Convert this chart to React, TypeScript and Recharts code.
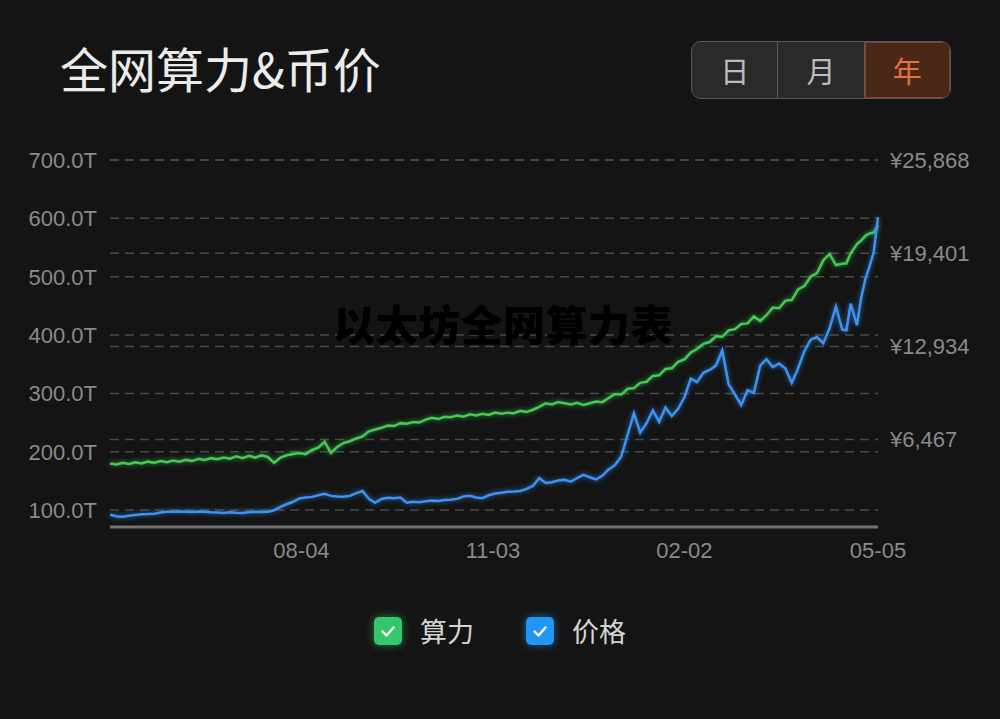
import React from 'react';
import { LineChart, Line, XAxis, YAxis, CartesianGrid } from 'recharts';

// Day offsets from 05-05 (start of the one-year window)
const days = [
  0, 3, 6, 9, 12, 15, 18, 21, 24, 27, 30, 33, 36, 39, 42, 45, 48, 51, 54, 57,
  60, 63, 66, 69, 72, 75, 78, 81, 84, 87, 90, 93, 96, 99, 102, 105, 108, 111, 114, 117,
  120, 123, 126, 129, 132, 135, 138, 141, 144, 147, 150, 153, 156, 159, 162, 165, 168, 171, 174, 177,
  180, 183, 186, 189, 192, 195, 198, 201, 204, 207, 210, 213, 216, 219, 222, 225, 228, 231, 234, 237,
  240, 243, 246, 249, 252, 255, 258, 261, 264, 267, 270, 273, 276, 279, 282, 285, 288, 291, 294, 297,
  300, 303, 306, 309, 312, 315, 318, 321, 324, 327, 330, 333, 336, 339, 342,
  345, 348, 350, 352, 355, 357, 359, 361, 363, 365,
];

// Network hashrate (T)
const hashrate = [
  180, 178, 181, 179, 182, 180, 183, 181, 184, 182, 185, 183, 186, 184, 188, 186, 189, 187, 190, 188,
  192, 189, 193, 190, 194, 191, 181, 190, 194, 196, 198, 196, 203, 207, 217, 198, 208, 215, 218, 223,
  226, 235, 238, 241, 245, 244, 249, 248, 251, 250, 255, 258, 256, 260, 259, 262, 260, 264, 262, 265,
  263, 267, 265, 267, 266, 270, 268, 272, 277, 283, 281, 285, 283, 281, 284, 280, 283, 286, 285, 292,
  299, 298, 308, 309, 318, 320, 330, 331, 342, 343, 354, 358, 370, 376, 385, 388, 398, 397, 408, 410,
  419, 420, 432, 424, 434, 447, 446, 459, 460, 478, 484, 500, 506, 528, 539,
  520, 522, 523, 540, 556, 562, 570, 574, 576, 588,
];

// Coin price (¥)
const price = [
  1250, 1150, 1110, 1180, 1240, 1290, 1300, 1320, 1400, 1460, 1450, 1470, 1460, 1440, 1480, 1450, 1420, 1400, 1380, 1420,
  1390, 1380, 1420, 1450, 1440, 1460, 1560, 1800, 1980, 2150, 2380, 2450, 2490, 2600, 2700, 2560, 2520, 2500, 2560, 2750,
  2900, 2350, 2080, 2350, 2430, 2400, 2440, 2080, 2150, 2110, 2180, 2230, 2200, 2270, 2290, 2350, 2520, 2560, 2450, 2400,
  2600, 2720, 2780, 2840, 2860, 2900, 3050, 3250, 3800, 3450, 3500, 3620, 3680, 3550, 3800, 4020, 3850, 3700, 3950, 4400,
  4700, 5300, 6800, 8300, 6950, 7600, 8500, 7700, 8700, 8100, 8600, 9400, 10700, 10450, 11100, 11300, 11600, 12650, 10300, 9600,
  8850, 9900, 9700, 11600, 12050, 11500, 11750, 11400, 10400, 11400, 12600, 13400, 13580, 13150, 14200,
  15700, 14100, 14050, 15900, 14400, 16300, 17600, 18500, 19500, 21900,
];

const xTickDays = [91, 182, 273, 365];
const xTickLabels = ['08-04', '11-03', '02-02', '05-05'];
const hashTicks = [100, 200, 300, 400, 500, 600, 700];
const priceTicks = [6467, 12934, 19401, 25868];
const seriesNames = ['算力', '价格'];
const periodLabels = ['日', '月', '年'];
const titleText = '全网算力&币价';
const watermarkText = '以太坊全网算力表';

const GREEN = '#46c957';
const BLUE = '#3d93ee';

const data = days.map((d, i) => ({ day: d, hash: hashrate[i], price: price[i] }));

const tickStyle = { fontSize: 22, fill: '#8a8a8a', fontFamily: '"Liberation Sans", Arial, sans-serif' };

const fmtHash = (v: number) => `${v.toFixed(1)}T`;
const fmtPrice = (v: number) => '¥' + String(v).replace(/\B(?=(\d{3})+(?!\d))/g, ',');
const fmtDay = (v: number) => {
  const i = xTickDays.indexOf(v);
  return i >= 0 ? xTickLabels[i] : '';
};

const CJK = '"Noto Sans CJK SC", "Noto Sans", sans-serif';

const glowCss = `
.glow-green path { filter: drop-shadow(0 0 2.5px rgba(60, 200, 80, 0.75)); }
.glow-blue path { filter: drop-shadow(0 0 2.5px rgba(50, 140, 240, 0.75)); }
`;

const Check = ({ color }: { color: string }) => (
  <div
    style={{
      width: 28,
      height: 28,
      borderRadius: 5,
      background: color,
      boxShadow: `0 0 8px ${color}99`,
      display: 'flex',
      alignItems: 'center',
      justifyContent: 'center',
    }}
  >
    <svg width="28" height="28" viewBox="0 0 28 28">
      <polyline points="8.5,14.5 12.5,18.5 19.5,10.5" fill="none" stroke="#ffffff" strokeWidth="2.4" strokeLinecap="round" strokeLinejoin="round" />
    </svg>
  </div>
);

export default function App() {
  return (
    <div
      style={{
        position: 'absolute',
        left: 0,
        top: 0,
        width: 1000,
        height: 719,
        background: '#141414',
        overflow: 'hidden',
        fontFamily: CJK,
      }}
    >
      <style>{glowCss}</style>
      <div
        style={{
          position: 'absolute',
          left: 60,
          top: 43,
          fontSize: 48,
          lineHeight: '48px',
          color: '#ececec',
          whiteSpace: 'nowrap',
        }}
      >
        {titleText}
      </div>

      <div
        style={{
          position: 'absolute',
          left: 691,
          top: 41,
          width: 260,
          height: 58,
          boxSizing: 'border-box',
          border: '1.5px solid #585858',
          borderRadius: 10,
          overflow: 'hidden',
          display: 'flex',
          background: '#2a2a2a',
        }}
      >
        {periodLabels.map((p, i) => (
          <div
            key={p}
            style={{
              flex: 1,
              display: 'flex',
              alignItems: 'center',
              justifyContent: 'center',
              fontSize: 29,
              color: i === 2 ? '#e6733b' : '#bdbdbd',
              background: i === 2 ? '#4a2818' : 'transparent',
              borderLeft: i > 0 ? '1.5px solid #5a5a5a' : 'none',
              boxShadow: i === 2 ? 'inset 0 0 0 1px #7a4428' : 'none',
            }}
          >
            {p}
          </div>
        ))}
      </div>

      <div style={{ position: 'absolute', left: 0, top: 0 }}>
        <LineChart width={1000} height={719} data={data} margin={{ top: 160, right: 12, bottom: 142, left: 20 }}>
          <CartesianGrid yAxisId="left" vertical={false} stroke="#4a4a4a" strokeWidth={1.5} strokeDasharray="9 6" />
          <CartesianGrid yAxisId="right" vertical={false} stroke="#4a4a4a" strokeWidth={1.5} strokeDasharray="9 6" />
          <XAxis
            dataKey="day"
            type="number"
            domain={[0, 365]}
            ticks={xTickDays}
            tickFormatter={fmtDay}
            height={50}
            tickLine={false}
            tickMargin={9}
            axisLine={{ stroke: '#727272', strokeWidth: 3 }}
            tick={tickStyle}
            interval={0}
          />
          <YAxis
            yAxisId="left"
            orientation="left"
            width={90}
            domain={[71, 700]}
            allowDataOverflow
            ticks={hashTicks}
            tickFormatter={fmtHash}
            tickLine={false}
            axisLine={false}
            tickMargin={7}
            tick={tickStyle}
            interval={0}
          />
          <YAxis
            yAxisId="right"
            orientation="right"
            width={110}
            domain={[400, 25868]}
            allowDataOverflow
            ticks={priceTicks}
            tickFormatter={fmtPrice}
            tickLine={false}
            axisLine={false}
            tickMargin={6}
            tick={{ ...tickStyle, textAnchor: 'start' }}
            interval={0}
          />
          <Line
            yAxisId="left"
            dataKey="hash"
            name={seriesNames[0]}
            type="linear"
            stroke={GREEN}
            strokeWidth={2.5}
            dot={false}
            className="glow-green"
            isAnimationActive={false}
          />
          <Line
            yAxisId="right"
            dataKey="price"
            name={seriesNames[1]}
            type="linear"
            stroke={BLUE}
            strokeWidth={2.5}
            dot={false}
            className="glow-blue"
            isAnimationActive={false}
          />
        </LineChart>
      </div>

      <div
        style={{
          position: 'absolute',
          left: 333,
          top: 302,
          fontSize: 42,
          lineHeight: '42px',
          fontWeight: 900,
          color: '#000000',
          letterSpacing: 0.5,
          whiteSpace: 'nowrap',
        }}
      >
        {watermarkText}
      </div>

      <div
        style={{
          position: 'absolute',
          left: 0,
          top: 617,
          width: 1000,
          display: 'flex',
          justifyContent: 'center',
          alignItems: 'center',
          gap: 52,
        }}
      >
        {seriesNames.map((n, i) => (
          <div key={n} style={{ display: 'flex', alignItems: 'center', gap: 18 }}>
            <Check color={i === 0 ? '#36c66c' : '#2196f5'} />
            <span style={{ fontSize: 27, lineHeight: '28px', color: '#d4d4d4' }}>{n}</span>
          </div>
        ))}
      </div>
    </div>
  );
}
